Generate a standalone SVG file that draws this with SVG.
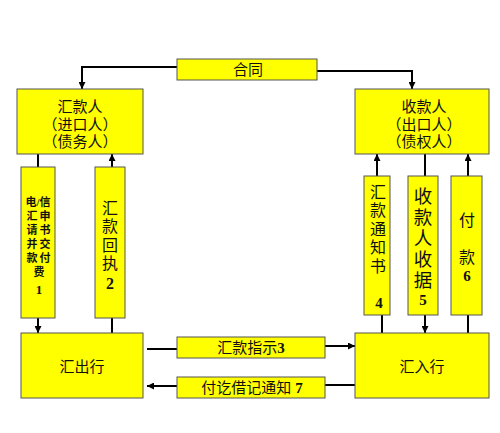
<svg xmlns="http://www.w3.org/2000/svg" width="500" height="433" viewBox="0 0 500 433">
<defs>
<marker id="ah" markerUnits="userSpaceOnUse" markerWidth="7" markerHeight="7" refX="7" refY="3.5" orient="auto">
<path d="M0,0 L7,3.5 L0,7 z" fill="#000"/>
</marker>
<style>
.box{fill:#ffff00;stroke:#555;stroke-width:1}
.t{font-family:"Liberation Serif","Noto Sans CJK SC",serif;fill:#111;text-anchor:middle;dominant-baseline:central}
.n{font-weight:bold}
.c{fill:none;stroke:#000;stroke-width:2}
.a{marker-end:url(#ah)}
</style>
</defs>
<rect width="500" height="433" fill="#fff"/>
<g id="connectors">
<polyline class="c a" points="177,67 82,67 82,89"/>
<polyline class="c a" points="317,71 412,71 412,89"/>
<line class="c" x1="38" y1="154" x2="38" y2="167"/>
<line class="c a" x1="38" y1="318" x2="38" y2="333"/>
<line class="c a" x1="112" y1="167" x2="112" y2="154"/>
<line class="c" x1="112" y1="333" x2="112" y2="318"/>
<line class="c a" x1="377" y1="176" x2="377" y2="154"/>
<line class="c" x1="382" y1="333" x2="382" y2="315"/>
<line class="c" x1="425" y1="154" x2="425" y2="176"/>
<line class="c a" x1="425" y1="315" x2="425" y2="333"/>
<line class="c a" x1="468" y1="176" x2="468" y2="154"/>
<line class="c" x1="468" y1="333" x2="468" y2="315"/>
<line class="c" x1="147" y1="349" x2="177" y2="349"/>
<line class="c a" x1="325" y1="346" x2="355" y2="346"/>
<line class="c" x1="355" y1="385" x2="325" y2="385"/>
<line class="c a" x1="177" y1="386" x2="147" y2="386"/>
</g>
<g id="contract">
<rect class="box" x="177" y="59" width="140" height="21"/>
<text class="t" x="248" y="70" font-size="15">合同</text>
</g>
<g id="remitter">
<rect class="box" x="17" y="89" width="126" height="65"/>
<text class="t" x="80" y="107" font-size="15">汇款人</text>
<text class="t" x="80" y="124.5" font-size="15">（进口人）</text>
<text class="t" x="80" y="142" font-size="15">（债务人）</text>
</g>
<g id="payee">
<rect class="box" x="355" y="89" width="134" height="65"/>
<text class="t" x="424" y="107" font-size="15">收款人</text>
<text class="t" x="424" y="124.5" font-size="15">（出口人）</text>
<text class="t" x="424" y="142" font-size="15">（债权人）</text>
</g>
<g id="step1" class="t" font-size="11" font-weight="bold">
<rect class="box" x="21" y="167" width="34" height="151"/>
<text class="t" x="38" y="202">电/信</text>
<text class="t" x="32" y="216">汇</text>
<text class="t" x="45" y="216">申</text>
<text class="t" x="32" y="230">请</text>
<text class="t" x="45" y="230">书</text>
<text class="t" x="32" y="244">并</text>
<text class="t" x="45" y="244">交</text>
<text class="t" x="32" y="258">款</text>
<text class="t" x="45" y="258">付</text>
<text class="t" x="39" y="272">费</text>
<text class="t" x="39" y="289" font-size="13">1</text>
</g>
<g id="step2" class="t" font-size="16">
<rect class="box" x="95" y="167" width="30" height="151"/>
<text class="t" x="110" y="208">汇</text>
<text class="t" x="110" y="226.5">款</text>
<text class="t" x="110" y="245">回</text>
<text class="t" x="110" y="263.5">执</text>
<text class="t n" x="110" y="283">2</text>
</g>
<g id="step4" class="t" font-size="16">
<rect class="box" x="364" y="176" width="26" height="139"/>
<text class="t" x="378" y="192">汇</text>
<text class="t" x="378" y="210.5">款</text>
<text class="t" x="378" y="229">通</text>
<text class="t" x="378" y="247.5">知</text>
<text class="t" x="378" y="266">书</text>
<text class="t n" x="379" y="303" font-size="15">4</text>
</g>
<g id="step5" class="t" font-size="18.5">
<rect class="box" x="408" y="176" width="30" height="139"/>
<text class="t" x="423" y="197">收</text>
<text class="t" x="423" y="218">款</text>
<text class="t" x="423" y="239">人</text>
<text class="t" x="423" y="260">收</text>
<text class="t" x="423" y="281">据</text>
<text class="t n" x="423" y="300" font-size="15">5</text>
</g>
<g id="step6" class="t" font-size="16">
<rect class="box" x="451" y="176" width="31" height="139"/>
<text class="t" x="467" y="220">付</text>
<text class="t" x="467" y="257">款</text>
<text class="t n" x="467" y="276" font-size="15">6</text>
</g>
<g id="remitting-bank">
<rect class="box" x="21" y="333" width="122" height="65"/>
<text class="t" x="82" y="367" font-size="15">汇出行</text>
</g>
<g id="paying-bank">
<rect class="box" x="355" y="333" width="134" height="65"/>
<text class="t" x="422" y="367" font-size="15">汇入行</text>
</g>
<g id="step3">
<rect class="box" x="177" y="337" width="148" height="21"/>
<text class="t" x="251" y="348" font-size="15">汇款指示<tspan class="n">3</tspan></text>
</g>
<g id="step7">
<rect class="box" x="177" y="377" width="148" height="21"/>
<text class="t" x="252" y="388" font-size="15">付讫借记通知 <tspan class="n">7</tspan></text>
</g>
</svg>
